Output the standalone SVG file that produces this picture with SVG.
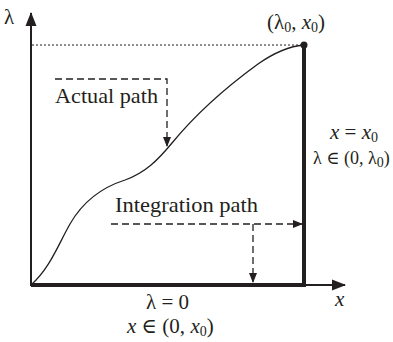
<svg xmlns="http://www.w3.org/2000/svg" width="393" height="342" viewBox="0 0 393 342">
<style>
.t{font-family:"Liberation Serif","DejaVu Serif",serif;font-size:21px;fill:#231f20}
.m{font-size:18px}
.i{font-style:italic}
.s{font-size:14px}
.ax{stroke:#231f20;stroke-width:2;fill:none}
.bold{stroke:#231f20;stroke-width:4;fill:none}
.dash{stroke:#231f20;stroke-width:1.3;stroke-dasharray:7,4;fill:none}
.dot{stroke:#231f20;stroke-width:1.2;stroke-dasharray:2,2;fill:none}
</style>
<defs>
<marker id="ah" markerWidth="10" markerHeight="10" refX="9" refY="5" orient="auto" markerUnits="userSpaceOnUse">
<path d="M0,1 L10,5 L0,9 Z" fill="#231f20"/>
</marker>
<marker id="axh" markerWidth="14" markerHeight="12" refX="13" refY="6" orient="auto" markerUnits="userSpaceOnUse">
<path d="M0,0.5 L14,6 L0,11.5 Z" fill="#231f20"/>
</marker>
</defs>
<g id="connectors">
<line class="ax" x1="31" y1="286" x2="31" y2="13" marker-end="url(#axh)"/>
<line class="ax" x1="30" y1="285" x2="345" y2="285" marker-end="url(#axh)"/>
<line class="dot" x1="32" y1="45" x2="304" y2="45"/>
<path d="M31,285 C50,268 58,245 70,224 C82,203 100,188 125,180 C145,173 158,160 172,143 C195,115 225,88 258,64 C278,50 292,46 304,45" stroke="#231f20" stroke-width="1.3" fill="none"/>
<polyline class="bold" points="31,285 304,285 304,45"/>
<circle cx="304" cy="45" r="3.5" fill="#231f20"/>
<polyline class="dash" points="55,79 167,79 167,146" marker-end="url(#ah)"/>
<line class="dash" x1="111" y1="224" x2="302" y2="224" marker-end="url(#ah)"/>
<line class="dash" x1="253" y1="224" x2="253" y2="282" marker-end="url(#ah)"/>
</g>
<g id="labels">
<text class="t" x="4" y="24">λ</text>
<text class="t i" x="335" y="306">x</text>
<text class="t" x="267" y="29">(λ<tspan class="s" dy="3">0</tspan><tspan dy="-3">, </tspan><tspan class="i">x</tspan><tspan class="s" dy="3">0</tspan><tspan dy="-3">)</tspan></text>
<text class="t" x="330" y="139"><tspan class="i">x</tspan> = <tspan class="i">x</tspan><tspan class="s" dy="3">0</tspan></text>
<text class="t m" x="313" y="164">λ ∈ (0, λ<tspan class="s" dy="3">0</tspan><tspan dy="-3">)</tspan></text>
<text class="t" x="146" y="309">λ = 0</text>
<text class="t" x="127" y="333"><tspan class="i">x</tspan> ∈ (0, <tspan class="i">x</tspan><tspan class="s" dy="3">0</tspan><tspan dy="-3">)</tspan></text>
<text class="t" x="55" y="103" textLength="103" lengthAdjust="spacingAndGlyphs">Actual path</text>
<text class="t" x="115" y="212" textLength="143" lengthAdjust="spacingAndGlyphs">Integration path</text>
</g>
</svg>
